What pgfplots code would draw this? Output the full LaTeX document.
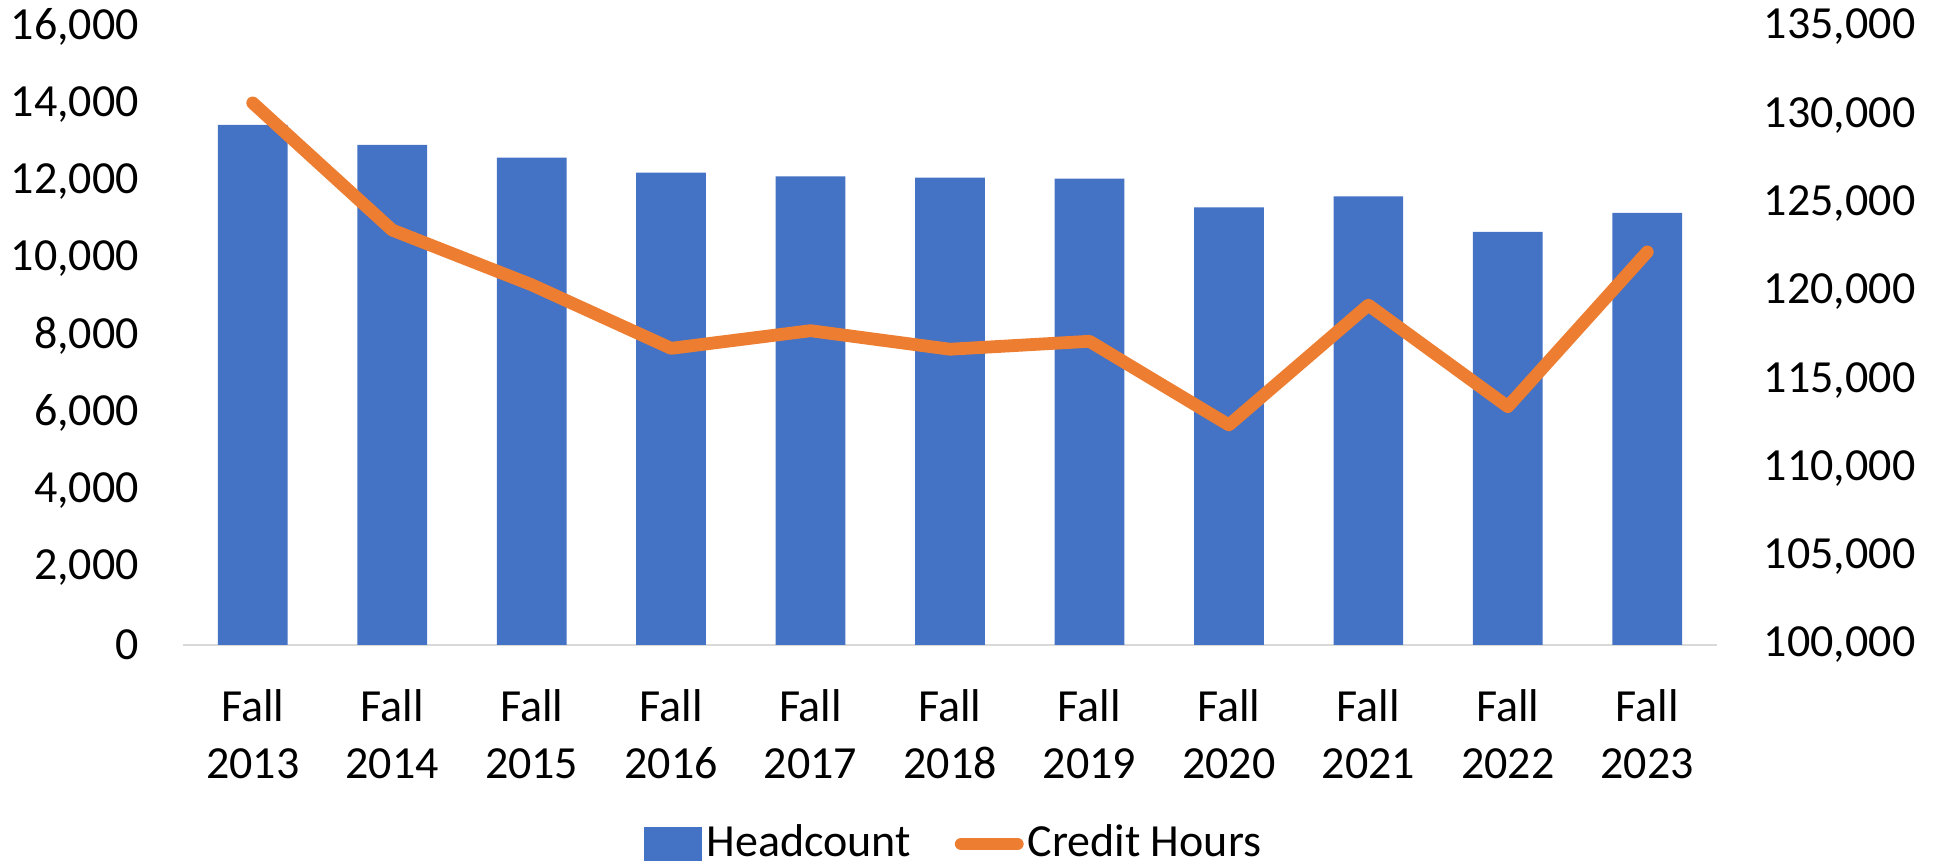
\documentclass[border=0pt]{standalone}
\usepackage{pgfplots}
\pgfplotsset{compat=1.18}
\usepackage{fontspec}
\setmainfont{Carlito}
\definecolor{hcblue}{HTML}{4472C4}
\definecolor{chorange}{HTML}{ED7D31}
\definecolor{axgray}{HTML}{D9D9D9}

% 1 px of the 1937x864 reference = 0.25pt
\pgfplotstableread{
x head
0 13463
1 12945
2 12616
3 12228
4 12135
5 12098
6 12073
7 11327
8 11614
9 10693
10 11184
}\headtable
\pgfplotstableread{
x hours
0 130700
1 123500
2 120400
3 116800
4 117800
5 116750
6 117200
7 112460
8 119250
9 113500
10 122260
}\hourtable

\begin{document}
\fontsize{11.5}{14.25}\selectfont
\begin{tikzpicture}
\pgfplotsset{
  basis/.style={
    scale only axis, width=383.5pt, height=154.5pt,
    xmin=-0.5, xmax=10.5,
    tick style={draw=none},
    tick label style={font=\fontsize{11.5}{14.25}\selectfont},
    /pgf/number format/fixed,
    /pgf/number format/assume math mode=true,
    /pgf/number format/1000 sep={,},
    scaled y ticks=false,
  },
}
\begin{axis}[
  basis, name=ax,
  ymin=0, ymax=16000, ytick={0,2000,...,16000},
  axis y line*=left, axis x line*=bottom,
  y axis line style={draw=none},
  x axis line style={draw=axgray, line width=0.6pt},
  xtick={0,...,10},
  xticklabels={Fall\\2013,Fall\\2014,Fall\\2015,Fall\\2016,Fall\\2017,Fall\\2018,Fall\\2019,Fall\\2020,Fall\\2021,Fall\\2022,Fall\\2023},
  xticklabel style={align=center, yshift=-7pt},
  yticklabel style={xshift=-7pt},
]
\addplot[ybar, bar width=0.5, fill=hcblue, draw=none] table[x=x, y=head] {\headtable};
\end{axis}
\begin{axis}[
  basis,
  ymin=100000, ymax=135000, ytick={100000,105000,...,135000},
  axis y line*=right, axis x line=none,
  y axis line style={draw=none},
  yticklabel style={xshift=7.7pt},
  legend style={at={(0.503,-0.322)}, anchor=center, draw=none, fill=none,
    legend columns=2, font=\fontsize{11.5}{14.25}\selectfont,
    nodes={inner sep=1pt},
    /tikz/every even column/.append style={column sep=10pt}},
  legend cell align=left,
]
\addlegendimage{legend image code/.code={\fill[hcblue] (0pt,-4pt) rectangle (14.25pt,4pt);}}
\addlegendentry{Headcount}
\addplot[chorange, line width=3.2pt, line cap=round, line join=round, mark=none,
  legend image code/.code={\draw (1.6pt,0pt) -- (15.6pt,0pt);}]
  table[x=x, y=hours] {\hourtable};
\addlegendentry{Credit Hours}
\end{axis}
\pgfresetboundingbox
\path ([xshift=-45.75pt, yshift=-54.75pt]ax.south west) rectangle ([xshift=55pt, yshift=6.75pt]ax.north east);
\end{tikzpicture}
\end{document}
